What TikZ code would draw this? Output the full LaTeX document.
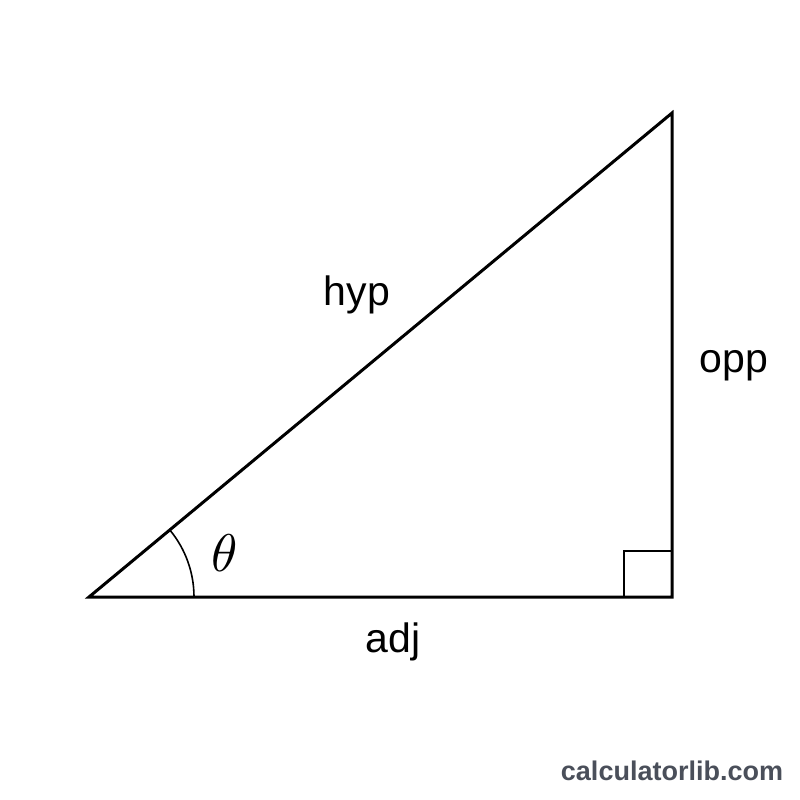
\documentclass[tikz,border=0pt]{standalone}
\usepackage{graphicx}
\usepackage{fontspec}
\setmainfont{Liberation Sans}
\definecolor{brand}{HTML}{4A4F5A}
\begin{document}
\begin{tikzpicture}[x=1pt,y=-1pt,
  side/.style={line width=3pt,line join=miter,line cap=rect},
  lbl/.style={anchor=base,inner sep=0pt,font=\fontsize{41}{45}\selectfont}]
\useasboundingbox (0,0) rectangle (800,800);
\fill[white] (0,0) rectangle (800,800);
\coordinate (A) at (89,597);
\coordinate (B) at (672,597);
\coordinate (C) at (672,113);
\draw[side] (A) -- (B) -- (C) -- cycle;
\coordinate (R1) at (624,597);
\coordinate (R2) at (624,551);
\coordinate (R3) at (672,551);
\draw[line width=2.5pt] (R1) -- (R2) -- (R3);
\draw[line width=1.6pt] ([xshift=105pt]A) arc[start angle=0,end angle=39.7,radius=105pt];
\node[anchor=base,inner sep=0pt] (theta) at (225,571) {\scalebox{5.3}{$\theta$}};
\node[lbl] (hyp) at (357,305) {hyp};
\node[lbl] (opp) at (734,372) {opp};
\node[lbl] (adj) at (393,652) {adj};
\node[anchor=base,inner sep=0pt,text=brand,font=\fontsize{27}{30}\selectfont\bfseries] (brandtxt) at (672,780) {calculatorlib.com};
\end{tikzpicture}
\end{document}
